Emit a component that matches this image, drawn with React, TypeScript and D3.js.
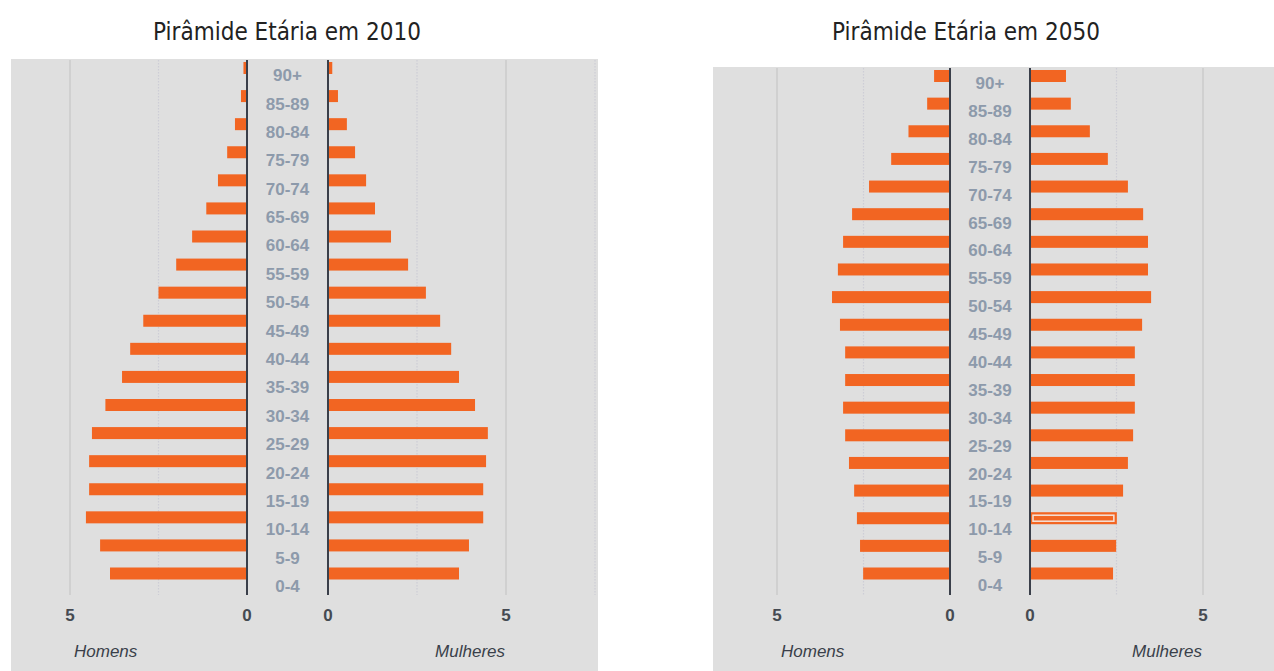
import React from "react";
import * as d3 from "d3";

const ages = ["90+", "85-89", "80-84", "75-79", "70-74", "65-69", "60-64", "55-59", "50-54", "45-49", "40-44", "35-39", "30-34", "25-29", "20-24", "15-19", "10-14", "5-9", "0-4"];
const men2010 = [0.1, 0.17, 0.34, 0.56, 0.82, 1.15, 1.55, 2.0, 2.5, 2.93, 3.3, 3.53, 4.0, 4.38, 4.46, 4.46, 4.55, 4.15, 3.87];
const women2010 = [0.12, 0.28, 0.53, 0.76, 1.07, 1.32, 1.77, 2.25, 2.75, 3.15, 3.46, 3.68, 4.13, 4.49, 4.44, 4.36, 4.36, 3.96, 3.68];
const men2050 = [0.46, 0.66, 1.2, 1.7, 2.34, 2.83, 3.09, 3.24, 3.41, 3.18, 3.03, 3.03, 3.09, 3.03, 2.92, 2.77, 2.69, 2.6, 2.51];
const women2050 = [1.04, 1.18, 1.73, 2.25, 2.83, 3.27, 3.41, 3.41, 3.5, 3.24, 3.03, 3.03, 3.03, 2.98, 2.83, 2.69, 2.51, 2.49, 2.4];
const titles = ["Pirâmide Etária em 2010", "Pirâmide Etária em 2050"];
const tickValues = [0, 5];
const gridValues = [2.5, 5, 7.5];
const sideLabels = ["Homens", "Mulheres"];

const ORANGE = "#f26522";
const BG = "#dfdfdf";

type Layout = {
  titleX: number;
  bgX0: number;
  bgX1: number;
  bgY0: number;
  menZero: number;
  menFive: number;
  womenZero: number;
  womenFive: number;
  barTop: number;
  barBottom: number;
  labelTop: number;
  labelBottom: number;
  lineTop: number;
  lineBottom: number;
};

const layouts: Layout[] = [
  { titleX: 287, bgX0: 11, bgX1: 598, bgY0: 59, menZero: 247, menFive: 70, womenZero: 328, womenFive: 506, barTop: 68, barBottom: 573.5, labelTop: 75, labelBottom: 586, lineTop: 60, lineBottom: 595 },
  { titleX: 966, bgX0: 713, bgX1: 1274, bgY0: 67, menZero: 950, menFive: 777, womenZero: 1030, womenFive: 1203, barTop: 76, barBottom: 573.5, labelTop: 83, labelBottom: 585, lineTop: 68, lineBottom: 595 },
];

function Pyramid({ idx, men, women, highlight }: { idx: number; men: number[]; women: number[]; highlight?: number }) {
  const L = layouts[idx];
  const xm = d3.scaleLinear().domain([0, 5]).range([L.menZero, L.menFive]);
  const xw = d3.scaleLinear().domain([0, 5]).range([L.womenZero, L.womenFive]);
  const yBar = d3.scalePoint<string>().domain(ages).range([L.barTop, L.barBottom]);
  const yLab = d3.scalePoint<string>().domain(ages).range([L.labelTop, L.labelBottom]);
  const bh = 12;
  const inside = (x: number) => x > L.bgX0 + 2 && x < L.bgX1 - 2;
  return (
    <g>
      <text x={L.titleX} y={40} textAnchor="middle" fontFamily="'DejaVu Sans Condensed', 'DejaVu Sans', sans-serif" fontSize={24} fill="#222">
        {titles[idx]}
      </text>
      <rect x={L.bgX0} y={L.bgY0} width={L.bgX1 - L.bgX0} height={671 - L.bgY0} fill={BG} />
      {gridValues.map((v) => {
        const dotted = v !== 5;
        return (
          <g key={v}>
            {inside(xm(v)) && (
              <line x1={xm(v)} x2={xm(v)} y1={L.lineTop} y2={L.lineBottom} stroke={dotted ? "#cdcdd6" : "#c6c6c6"} strokeWidth={1.2} strokeDasharray={dotted ? "1.5,1.5" : undefined} />
            )}
            {inside(xw(v)) && (
              <line x1={xw(v)} x2={xw(v)} y1={L.lineTop} y2={L.lineBottom} stroke={dotted ? "#cdcdd6" : "#c6c6c6"} strokeWidth={1.2} strokeDasharray={dotted ? "1.5,1.5" : undefined} />
            )}
          </g>
        );
      })}
      {ages.map((a, i) => {
        const y = (yBar(a) as number) - bh / 2;
        const x0 = xm(men[i]);
        return <rect key={"m" + a} x={x0} y={y} width={xm(0) - x0} height={bh} fill={ORANGE} />;
      })}
      {ages.map((a, i) => {
        const y = (yBar(a) as number) - bh / 2;
        const w = xw(women[i]) - xw(0);
        const hl = highlight === i;
        return (
          <g key={"w" + a}>
            <rect x={xw(0)} y={y} width={w} height={bh} fill={ORANGE} />
            {hl && <rect x={xw(0) + 3} y={y + 3} width={w - 6} height={bh - 6} fill="none" stroke="#f3ddd2" strokeWidth={1.6} />}
          </g>
        );
      })}
      <line x1={xm(0)} x2={xm(0)} y1={L.lineTop} y2={L.lineBottom} stroke="#3a3f4a" strokeWidth={2} />
      <line x1={xw(0)} x2={xw(0)} y1={L.lineTop} y2={L.lineBottom} stroke="#3a3f4a" strokeWidth={2} />
      {ages.map((a) => (
        <text key={"l" + a} x={(xm(0) + xw(0)) / 2} y={yLab(a) as number} dy="0.36em" textAnchor="middle" fontFamily="'Liberation Sans', Arial, sans-serif" fontSize={17} fontWeight="bold" fill="#8d9aab">
          {a}
        </text>
      ))}
      {tickValues.map((v) => (
        <g key={"t" + v}>
          <text x={xm(v)} y={615} dy="0.36em" textAnchor="middle" fontFamily="'Liberation Sans', Arial, sans-serif" fontSize={17} fontWeight="bold" fill="#454a52">{v}</text>
          <text x={xw(v)} y={615} dy="0.36em" textAnchor="middle" fontFamily="'Liberation Sans', Arial, sans-serif" fontSize={17} fontWeight="bold" fill="#454a52">{v}</text>
        </g>
      ))}
      <text x={xm(5) + 4} y={651} dy="0.36em" textAnchor="start" fontFamily="'Liberation Sans', Arial, sans-serif" fontSize={17} fontStyle="italic" fill="#3a3f4a">{sideLabels[0]}</text>
      <text x={xw(5) - 1} y={651} dy="0.36em" textAnchor="end" fontFamily="'Liberation Sans', Arial, sans-serif" fontSize={17} fontStyle="italic" fill="#3a3f4a">{sideLabels[1]}</text>
    </g>
  );
}

export default function App() {
  return (
    <div style={{ position: "absolute", left: 0, top: 0 }}>
      <svg width={1274} height={671} style={{ display: "block", background: "#fff" }}>
        <Pyramid idx={0} men={men2010} women={women2010} />
        <Pyramid idx={1} men={men2050} women={women2050} highlight={16} />
      </svg>
    </div>
  );
}
